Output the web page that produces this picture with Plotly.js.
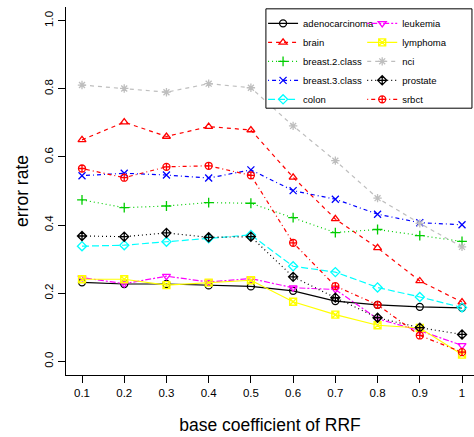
<!DOCTYPE html>
<html>
<head>
<meta charset="utf-8">
<script src="https://cdn.plot.ly/plotly-3.0.1.min.js"></script>
<style>html,body{margin:0;padding:0;background:#fff;}#chart{width:474px;height:437px;}</style>
</head>
<body>
<div id="chart"></div>
<script>
// ---- data ----
const baseCoef = [0.1, 0.2, 0.3, 0.4, 0.5, 0.6, 0.7, 0.8, 0.9, 1.0];
const xTickLabels = ['0.1', '0.2', '0.3', '0.4', '0.5', '0.6', '0.7', '0.8', '0.9', '1'];
const datasetNames = ['adenocarcinoma', 'brain', 'breast.2.class', 'breast.3.class', 'colon',
                      'leukemia', 'lymphoma', 'nci', 'prostate', 'srbct'];
const adenocarcinoma = [0.232, 0.227, 0.227, 0.223, 0.220, 0.207, 0.177, 0.166, 0.160, 0.157];
const brain          = [0.650, 0.702, 0.660, 0.689, 0.679, 0.540, 0.418, 0.333, 0.236, 0.174];
const breast2class   = [0.474, 0.451, 0.456, 0.466, 0.464, 0.422, 0.378, 0.387, 0.369, 0.352];
const breast3class   = [0.545, 0.552, 0.547, 0.538, 0.562, 0.501, 0.476, 0.432, 0.407, 0.401];
const colon          = [0.338, 0.341, 0.351, 0.361, 0.371, 0.279, 0.262, 0.217, 0.189, 0.158];
const leukemia       = [0.246, 0.228, 0.250, 0.233, 0.243, 0.216, 0.211, 0.125, 0.090, 0.047];
const lymphoma       = [0.241, 0.241, 0.224, 0.231, 0.238, 0.175, 0.137, 0.106, 0.098, 0.020];
const nci            = [0.811, 0.801, 0.790, 0.815, 0.803, 0.691, 0.589, 0.479, 0.405, 0.336];
const prostate       = [0.368, 0.366, 0.377, 0.364, 0.366, 0.248, 0.187, 0.128, 0.099, 0.079];
const srbct          = [0.566, 0.539, 0.571, 0.574, 0.546, 0.348, 0.221, 0.166, 0.076, 0.027];
const seriesValues = [adenocarcinoma, brain, breast2class, breast3class, colon,
                      leukemia, lymphoma, nci, prostate, srbct];

// ---- styles (R default palette / lty / pch cycle) ----
const colors  = ['#000000', '#FF0000', '#00CD00', '#0000FF', '#00FFFF', '#FF00FF', '#FFFF00', '#BEBEBE', '#000000', '#FF0000'];
const dashes  = ['solid', '4px,4px', '1px,3px', '1px,3px,4px,3px', '7px,3px', '2px,2px,6px,2px', 'solid', '4px,4px', '1px,3px', '1px,3px,4px,3px'];
const symbols = ['circle-open', 'triangle-up-open', 'cross-thin-open', 'x-thin-open', 'diamond-open', 'triangle-down-open',
                 'square-x-open', 'asterisk-open', 'diamond-cross-open', 'circle-cross-open'];

const FONT = 'Liberation Sans, Arial, Helvetica, sans-serif';

const traces = datasetNames.map((name, i) => ({
  type: 'scatter',
  mode: 'lines+markers',
  name: name,
  x: baseCoef,
  y: seriesValues[i],
  legend: i < 5 ? 'legend' : 'legend2',
  line: {color: colors[i], width: 1.2, dash: dashes[i]},
  marker: {symbol: symbols[i], size: 7, color: colors[i], line: {width: 1.3, color: colors[i]}}
}));

const legendCommon = {
  orientation: 'v', yanchor: 'top', xanchor: 'left', y: 0.995,
  bgcolor: 'rgba(0,0,0,0)', borderwidth: 0, tracegroupgap: 0, itemwidth: 30,
  font: {family: FONT, size: 9.5, color: '#000'}
};

const layout = {
  width: 474, height: 437,
  margin: {l: 66, r: 0, t: 7, b: 62, pad: 0},
  paper_bgcolor: '#fff', plot_bgcolor: '#fff',
  font: {family: FONT, color: '#000'},
  showlegend: true,
  legend: Object.assign({}, legendCommon, {x: 0.483}),
  legend2: Object.assign({}, legendCommon, {x: 0.726}),
  shapes: [{
    type: 'rect', xref: 'paper', yref: 'paper', layer: 'above',
    x0: 0.49, x1: 0.995, y0: 0.725, y1: 0.995,
    line: {color: '#000', width: 1}, fillcolor: '#fff'
  }],
  xaxis: {
    range: [0.0621, 1.0284], tickvals: baseCoef, ticktext: xTickLabels,
    showgrid: false, zeroline: false, showline: true, linecolor: '#000', linewidth: 1,
    ticks: 'outside', ticklen: 7, tickcolor: '#000', tickwidth: 1,
    tickfont: {family: FONT, size: 11.5, color: '#000'},
    title: {text: 'base coefficient of RRF', font: {family: FONT, size: 17.5, color: '#000'}, standoff: 20}
  },
  yaxis: {
    range: [-0.04, 1.04], tickvals: [0, 0.2, 0.4, 0.6, 0.8, 1.0], tickformat: '.1f', tickangle: -90,
    showgrid: false, zeroline: false, showline: true, linecolor: '#000', linewidth: 1,
    ticks: 'outside', ticklen: 7, tickcolor: '#000', tickwidth: 1,
    tickfont: {family: FONT, size: 11.5, color: '#000'},
    title: {text: 'error rate', font: {family: FONT, size: 17.5, color: '#000'}, standoff: 10}
  }
};

Plotly.newPlot('chart', traces, layout, {displayModeBar: false, staticPlot: true});
</script>
</body>
</html>
